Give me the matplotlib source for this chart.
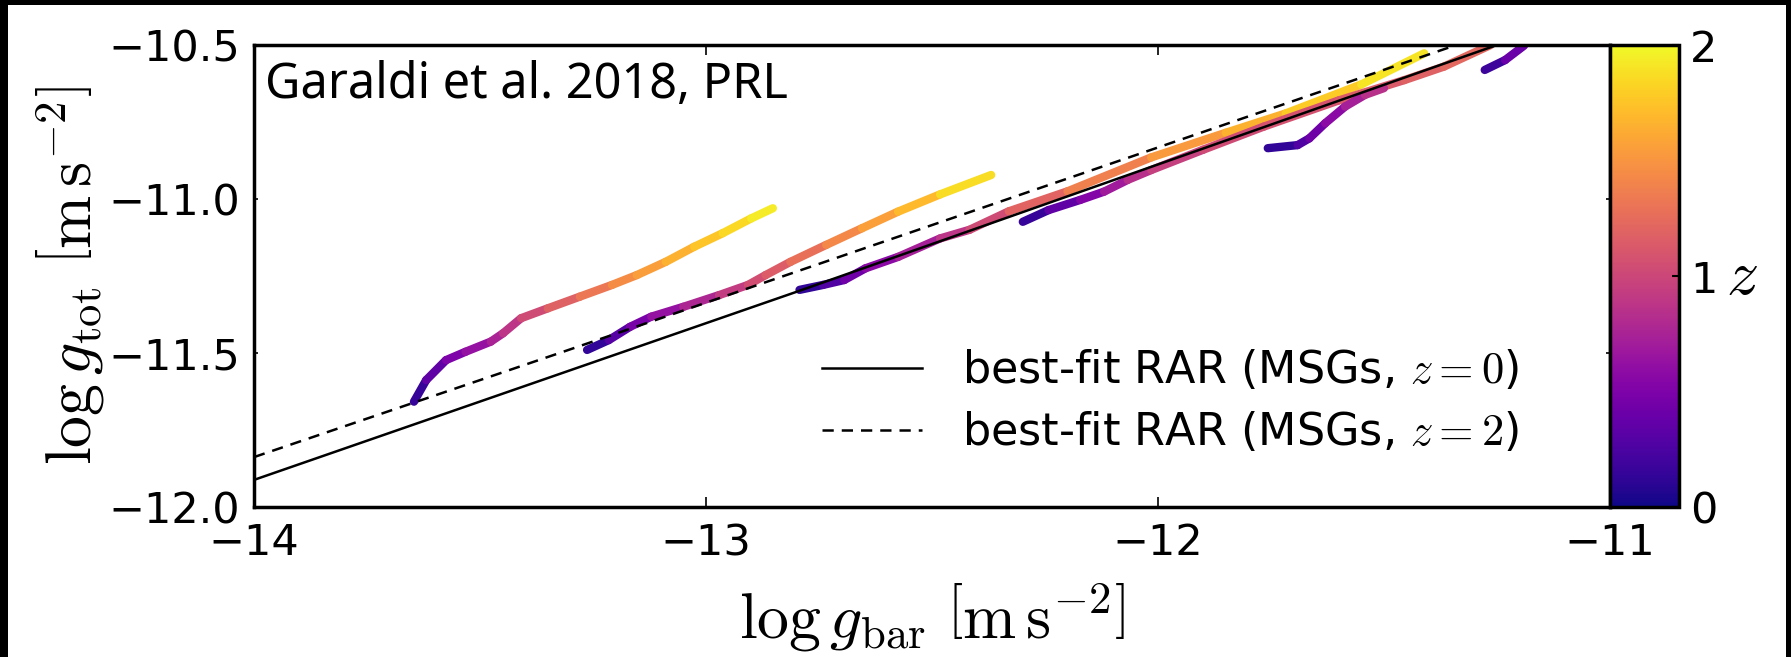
import numpy as np
import matplotlib
matplotlib.use('Agg')
import matplotlib.pyplot as plt
from matplotlib.collections import LineCollection
from matplotlib.patches import Rectangle
from matplotlib.cm import ScalarMappable

# galaxy tracks: log g_bar, log g_tot and redshift along each track
track_a_x = [-13.646, -13.619, -13.575, -13.532, -13.476, -13.449, -13.409, -13.350,
             -13.279, -13.208, -13.153, -13.089, -13.026, -12.963, -12.900, -12.852]
track_a_y = [-11.658, -11.588, -11.523, -11.496, -11.463, -11.436, -11.387, -11.355,
             -11.317, -11.279, -11.247, -11.204, -11.155, -11.111, -11.063, -11.030]
track_a_z = [0.05, 0.25, 0.45, 0.55, 0.70, 0.80, 0.95, 1.10,
             1.25, 1.40, 1.50, 1.60, 1.70, 1.80, 1.90, 1.97]

track_b_x = [-13.263, -13.215, -13.168, -13.121, -13.050, -12.971, -12.907,
             -12.868, -12.813, -12.734, -12.655, -12.575, -12.482, -12.369]
track_b_y = [-11.490, -11.458, -11.415, -11.382, -11.350, -11.312, -11.279,
             -11.247, -11.204, -11.149, -11.095, -11.041, -10.985, -10.922]
track_b_z = [0.05, 0.20, 0.40, 0.55, 0.70, 0.85, 1.00,
             1.10, 1.20, 1.35, 1.50, 1.62, 1.78, 1.95]

track_c_x = [-12.793, -12.741, -12.694, -12.647, -12.575, -12.482, -12.417,
             -12.330, -12.200, -12.015, -11.850, -11.717, -11.550, -11.411]
track_c_y = [-11.295, -11.279, -11.263, -11.225, -11.188, -11.128, -11.100,
             -11.040, -10.975, -10.865, -10.785, -10.722, -10.628, -10.527]
track_c_z = [0.05, 0.20, 0.35, 0.50, 0.65, 0.80, 0.95,
             1.10, 1.30, 1.45, 1.60, 1.72, 1.85, 1.95]

track_d_x = [-12.299, -12.242, -12.172, -12.119, -12.067, -12.015,
             -11.900, -11.766, -11.600, -11.455, -11.367, -11.264]
track_d_y = [-11.074, -11.036, -11.003, -10.976, -10.938, -10.906,
             -10.840, -10.765, -10.680, -10.614, -10.570, -10.500]
track_d_z = [0.05, 0.25, 0.45, 0.60, 0.78, 0.90,
             1.00, 1.05, 1.10, 1.15, 1.20, 1.25]

track_e_x = [-11.757, -11.691, -11.665, -11.630, -11.586, -11.542, -11.500]
track_e_y = [-10.835, -10.825, -10.803, -10.754, -10.700, -10.662, -10.640]
track_e_z = [0.05, 0.20, 0.35, 0.50, 0.65, 0.80, 0.90]

track_f_x = [-11.277, -11.232, -11.190]
track_f_y = [-10.581, -10.549, -10.502]
track_f_z = [0.05, 0.30, 0.50]

# best-fit RAR lines
fit_z0_x = [-14.0, -12.797, -11.25]
fit_z0_y = [-11.912, -11.300, -10.50]
fit_z2_x = [-14.0, -13.310, -11.34]
fit_z2_y = [-11.838, -11.493, -10.50]

x_ticks = [-14, -13, -12, -11]
y_ticks = [-12.0, -11.5, -11.0, -10.5]
z_ticks = [0, 1, 2]

plt.rcParams['mathtext.fontset'] = 'cm'

fig = plt.figure(figsize=(17.91, 6.57), dpi=100)
fig.patch.set_facecolor('black')
fig.add_artist(Rectangle((0.0045, 0.0), 0.9927, 0.9924, transform=fig.transFigure,
                         facecolor='white', edgecolor='none', zorder=-10))

ax = fig.add_axes([0.1418, 0.2283, 0.7571, 0.7032])
cax = fig.add_axes([0.8989, 0.2283, 0.0385, 0.7032])

norm = plt.Normalize(0, 2)
cmap = plt.get_cmap('plasma')

tracks = [(track_a_x, track_a_y, track_a_z), (track_b_x, track_b_y, track_b_z),
          (track_c_x, track_c_y, track_c_z), (track_d_x, track_d_y, track_d_z),
          (track_e_x, track_e_y, track_e_z), (track_f_x, track_f_y, track_f_z)]
for xs, ys, zs in tracks:
    pts = np.column_stack([xs, ys])
    segs = np.stack([pts[:-1], pts[1:]], axis=1)
    zs = np.asarray(zs)
    lc = LineCollection(segs, cmap=cmap, norm=norm, linewidths=6,
                        capstyle='round', joinstyle='round', zorder=2)
    lc.set_array(0.5 * (zs[:-1] + zs[1:]))
    ax.add_collection(lc)

ax.plot(fit_z0_x, fit_z0_y, color='black', lw=1.8, zorder=3,
        label=r'best-fit RAR (MSGs, $z=0$)')
ax.plot(fit_z2_x, fit_z2_y, color='black', lw=1.8, ls=(0, (4.5, 3.2)), zorder=3,
        label=r'best-fit RAR (MSGs, $z=2$)')

ax.set_xlim(-14, -11)
ax.set_ylim(-12, -10.5)
ax.set_xticks(x_ticks)
ax.set_yticks(y_ticks)
ax.tick_params(axis='x', direction='in', top=True, length=7, width=1.2, labelsize=31, pad=11)
ax.tick_params(axis='y', direction='in', right=True, length=3, width=1.2, labelsize=31, pad=10)
for sp in ax.spines.values():
    sp.set_linewidth(2.5)

ax.set_xlabel(r'$\log g_{\rm bar}\ \left[{\rm m\,s}^{-2}\right]$', fontsize=46, labelpad=12)
ax.set_ylabel(r'$\log g_{\rm tot}\ \left[{\rm m\,s}^{-2}\right]$', fontsize=46, labelpad=2)

ax.legend(loc='center left', bbox_to_anchor=(0.419, 0.229), frameon=False, fontsize=32,
          borderpad=0, borderaxespad=0, handlelength=2.25, handletextpad=0.9, labelspacing=0.4)

ax.text(0.008, 0.885, 'Garaldi et al. 2018, PRL', transform=ax.transAxes,
        fontsize=35, family='Noto Sans', va='baseline', ha='left', zorder=5)

cb = fig.colorbar(ScalarMappable(norm=norm, cmap=cmap), cax=cax, ticks=z_ticks)
cb.outline.set_linewidth(2.5)
cax.tick_params(direction='in', length=5, width=1.5, labelsize=31, pad=8)
cb.set_label('$z$', rotation=0, fontsize=46, va='center', ha='left', labelpad=6)

fig.savefig('out.png', dpi=100, facecolor=fig.get_facecolor())
